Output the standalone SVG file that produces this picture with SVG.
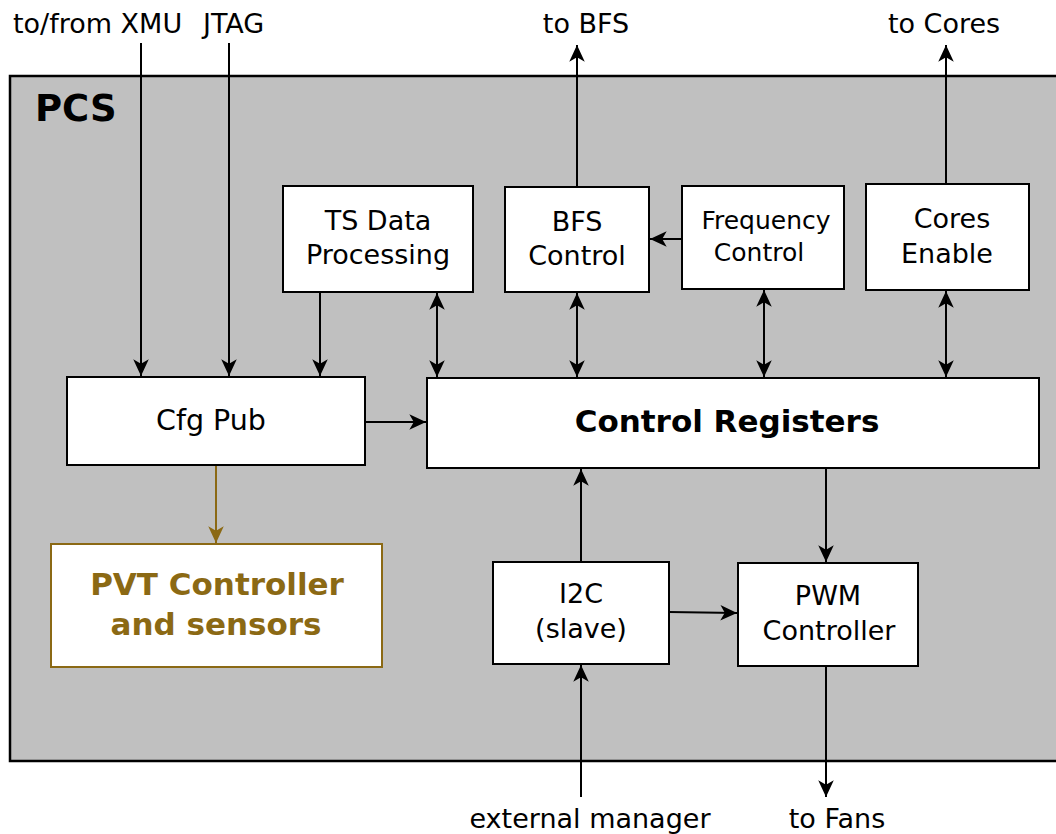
<svg xmlns="http://www.w3.org/2000/svg" width="1056" height="834" viewBox="0 0 1056 834">
<style>
text{font-family:"DejaVu Sans","Verdana",sans-serif;font-size:27px;fill:#000}
.c{text-anchor:middle}
.b{font-weight:bold}
.box{fill:#fff;stroke:#000;stroke-width:2}
.ln{stroke:#000;stroke-width:2;fill:none}
.gold{stroke:#8b6914}
</style>
<defs>
<marker id="ah" markerUnits="userSpaceOnUse" markerWidth="20" markerHeight="20" viewBox="-16 -8 18 16" refX="0" refY="0" orient="auto-start-reverse">
<path d="M0,0 L-15,-7 L-11,0 L-15,7 Z" fill="#000"/>
</marker>
<marker id="ahg" markerUnits="userSpaceOnUse" markerWidth="20" markerHeight="20" viewBox="-16 -8 18 16" refX="0" refY="0" orient="auto">
<path d="M0,0 L-15,-7 L-11,0 L-15,7 Z" fill="#8b6914"/>
</marker>
</defs>
<rect x="0" y="0" width="1056" height="834" fill="#fff"/>
<g id="pcs">
<rect x="10" y="76" width="1060" height="685" fill="#c0c0c0" stroke="#000" stroke-width="2.5"/>
<text x="35" y="121" class="b" style="font-size:37px">PCS</text>
</g>
<g id="labels">
<text x="13" y="33">to/from XMU</text>
<text x="203" y="33">JTAG</text>
<text x="586" y="33" class="c">to BFS</text>
<text x="944" y="33" class="c">to Cores</text>
<text x="590" y="828" class="c">external manager</text>
<text x="837" y="828" class="c">to Fans</text>
</g>
<g id="connectors">
<line class="ln" x1="141" y1="43" x2="141" y2="376" marker-end="url(#ah)"/>
<line class="ln" x1="229" y1="43" x2="229" y2="376" marker-end="url(#ah)"/>
<line class="ln" x1="320" y1="292" x2="320" y2="376" marker-end="url(#ah)"/>
<line class="ln" x1="437" y1="293" x2="437" y2="377" marker-start="url(#ah)" marker-end="url(#ah)"/>
<line class="ln" x1="577" y1="293" x2="577" y2="377" marker-start="url(#ah)" marker-end="url(#ah)"/>
<line class="ln" x1="764" y1="290" x2="764" y2="377" marker-start="url(#ah)" marker-end="url(#ah)"/>
<line class="ln" x1="946" y1="291" x2="946" y2="377" marker-start="url(#ah)" marker-end="url(#ah)"/>
<line class="ln" x1="577" y1="187" x2="577" y2="45" marker-end="url(#ah)"/>
<line class="ln" x1="946" y1="184" x2="946" y2="45" marker-end="url(#ah)"/>
<line class="ln" x1="682" y1="239" x2="650" y2="239" marker-end="url(#ah)"/>
<line class="ln" x1="365" y1="422" x2="426" y2="422" marker-end="url(#ah)"/>
<line class="ln gold" x1="216" y1="465" x2="216" y2="543" marker-end="url(#ahg)"/>
<line class="ln" x1="581" y1="562" x2="581" y2="469" marker-end="url(#ah)"/>
<line class="ln" x1="826" y1="468" x2="826" y2="562" marker-end="url(#ah)"/>
<line class="ln" x1="669" y1="612" x2="737" y2="613" marker-end="url(#ah)"/>
<line class="ln" x1="581" y1="797" x2="581" y2="665" marker-end="url(#ah)"/>
<line class="ln" x1="826" y1="666" x2="826" y2="797" marker-end="url(#ah)"/>
</g>
<g id="ts">
<rect class="box" x="283" y="186" width="190" height="106"/>
<text x="378" y="230" class="c">TS Data</text>
<text x="378" y="264" class="c">Processing</text>
</g>
<g id="bfs">
<rect class="box" x="505" y="187" width="144" height="105"/>
<text x="577" y="231" class="c">BFS</text>
<text x="577" y="265" class="c">Control</text>
</g>
<g id="freq">
<rect class="box" x="682" y="186" width="162" height="103"/>
<text x="766" y="229" class="c" style="font-size:25px">Frequency</text>
<text x="759" y="261" class="c" style="font-size:25px">Control</text>
</g>
<g id="cores">
<rect class="box" x="866" y="184" width="163" height="106"/>
<text x="952" y="228" class="c">Cores</text>
<text x="947" y="263" class="c">Enable</text>
</g>
<g id="cfgpub">
<rect class="box" x="67" y="377" width="298" height="88"/>
<text x="211" y="430" class="c" style="font-size:28.5px">Cfg Pub</text>
</g>
<g id="ctrlregs">
<rect class="box" x="427" y="378" width="612" height="90"/>
<text x="727" y="432" class="c b" style="font-size:31px">Control Registers</text>
</g>
<g id="pvt">
<rect x="51" y="544" width="331" height="123" fill="#fff" stroke="#8b6914" stroke-width="2"/>
<text x="217" y="595" class="c b" style="font-size:31px;fill:#8b6914">PVT Controller</text>
<text x="216" y="635" class="c b" style="font-size:31px;fill:#8b6914">and sensors</text>
</g>
<g id="i2c">
<rect class="box" x="493" y="562" width="176" height="102"/>
<text x="581" y="603" class="c">I2C</text>
<text x="581" y="638" class="c">(slave)</text>
</g>
<g id="pwm">
<rect class="box" x="738" y="563" width="180" height="103"/>
<text x="828" y="605" class="c">PWM</text>
<text x="829" y="640" class="c">Controller</text>
</g>
</svg>
